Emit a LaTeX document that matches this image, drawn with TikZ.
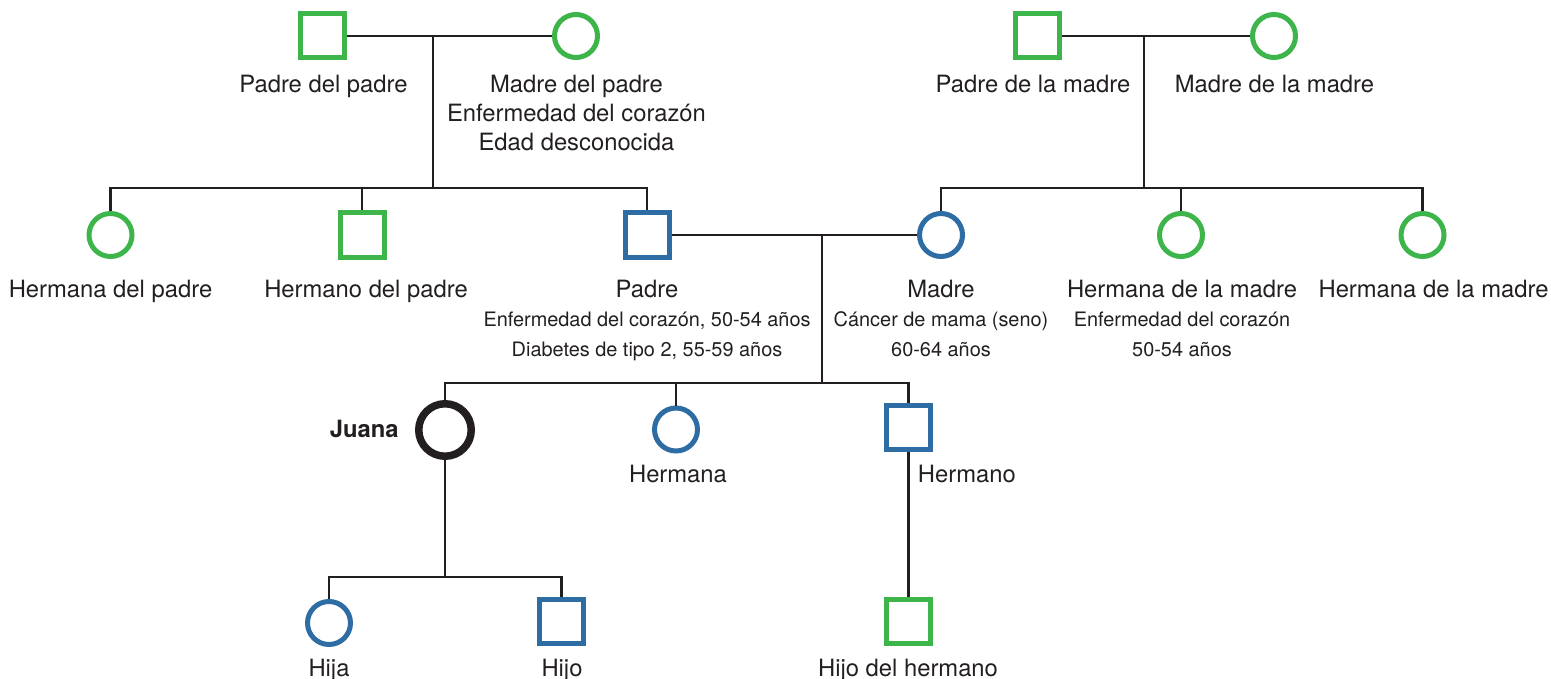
\documentclass[tikz,border=0pt]{standalone}
\usepackage{fontspec}
\setmainfont{TeX Gyre Heros}
\usetikzlibrary{shapes, calc, positioning}
\definecolor{famgreen}{RGB}{61,181,74}
\definecolor{famblue}{RGB}{46,108,164}
\definecolor{ink}{RGB}{35,31,32}
\tikzstyle{male} = [rectangle, draw, line width=2.5pt, minimum size=22pt, inner sep=0pt]
\tikzstyle{female} = [circle, draw, line width=2.5pt, minimum size=21.5pt, inner sep=0pt]
\tikzstyle{line} = [draw, line width=1.2pt, ink]
\tikzstyle{txt} = [text=ink, align=center, inner sep=0pt, anchor=base, font=\fontsize{11.9}{14.6}\selectfont]
\newcommand{\detail}[1]{{\fontsize{9.95}{14.5}\selectfont #1}}

\begin{document}
\begin{tikzpicture}[x=0.5pt, y=-0.5pt]
        \useasboundingbox (0,0) rectangle (1551,679);

        % abuelos
        \node[male, draw=famgreen] (00) at (322.5,36) {};
        \node[female, draw=famgreen] (01) at (576,36) {};
        \node[male, draw=famgreen] (02) at (1037,36) {};
        \node[female, draw=famgreen] (03) at (1274,36) {};
        \node[txt] (00l) at (323.5,93) {Padre del padre};
        \node[txt] (01l) at (576.5,151) {Madre del padre\\Enfermedad del corazón\\Edad desconocida};
        \node[txt] (02l) at (1033,93) {Padre de la madre};
        \node[txt] (03l) at (1274.5,93) {Madre de la madre};

        \coordinate (c0) at (433,36);
        \coordinate (s0) at (433,188);
        \path[line] (00) -- (01);
        \path[line] (c0) -- (s0);

        \coordinate (c1) at (1144,36);
        \coordinate (s1) at (1144,188);
        \path[line] (02) -- (03);
        \path[line] (c1) -- (s1);

        % padres, tios y tias
        \node[female, draw=famgreen] (10) at (110.5,235) {};
        \node[male, draw=famgreen] (11) at (362,235) {};
        \node[male, draw=famblue] (12) at (647,235) {};
        \node[female, draw=famblue] (13) at (941,235) {};
        \node[female, draw=famgreen] (14) at (1181,235) {};
        \node[female, draw=famgreen] (15) at (1422.5,235) {};
        \node[txt] (10l) at (110.5,297) {Hermana del padre};
        \node[txt] (11l) at (366,297) {Hermano del padre};
        \node[txt] (12l) at (647,356) {Padre\\\detail{Enfermedad del corazón, 50-54 años}\\\detail{Diabetes de tipo 2, 55-59 años}};
        \node[txt] (13l) at (941,356) {Madre\\\detail{Cáncer de mama (seno)}\\\detail{60-64 años}};
        \node[txt] (14l) at (1182,356) {Hermana de la madre\\\detail{Enfermedad del corazón}\\\detail{50-54 años}};
        \node[txt] (15l) at (1433.5,297) {Hermana de la madre};

        \path[line] (10) |- (s0) -| (12);
        \path[line] (11) -- (11 |- s0);
        \path[line] (13) |- (s1) -| (15);
        \path[line] (14) -- (14 |- s1);

        \coordinate (c2) at (822,235);
        \coordinate (s2) at (822,383);
        \path[line] (12) -- (13);
        \path[line] (c2) -- (s2);

        % Juana y hermanos
        \node[circle, draw=ink, line width=3.75pt, minimum size=26.25pt, inner sep=0pt] (20) at (445,430) {};
        \node[female, draw=famblue] (21) at (676,429.5) {};
        \node[male, draw=famblue] (22) at (908.5,427) {};
        \node[txt, anchor=base east] (20l) at (399,437) {\bfseries Juana};
        \node[txt] (21l) at (678,482) {Hermana};
        \node[txt, anchor=base west] (22l) at (917.5,482) {Hermano};

        \path[line] (20) |- (s2) -| (22);
        \path[line] (21) -- (21 |- s2);

        % hijos
        \coordinate (s3) at (445,577);
        \node[female, draw=famblue] (30) at (329,623) {};
        \node[male, draw=famblue] (31) at (561.5,621) {};
        \node[male, draw=famgreen] (32) at (908.5,621) {};
        \node[txt] (30l) at (329,676) {Hija};
        \node[txt] (31l) at (562,676) {Hijo};
        \node[txt] (32l) at (908,676) {Hijo del hermano};

        \path[line] (20) -- (s3);
        \path[line] (30) |- (s3) -| (31);
        \path[line] (22) -- (32);
    \end{tikzpicture}
\end{document}
